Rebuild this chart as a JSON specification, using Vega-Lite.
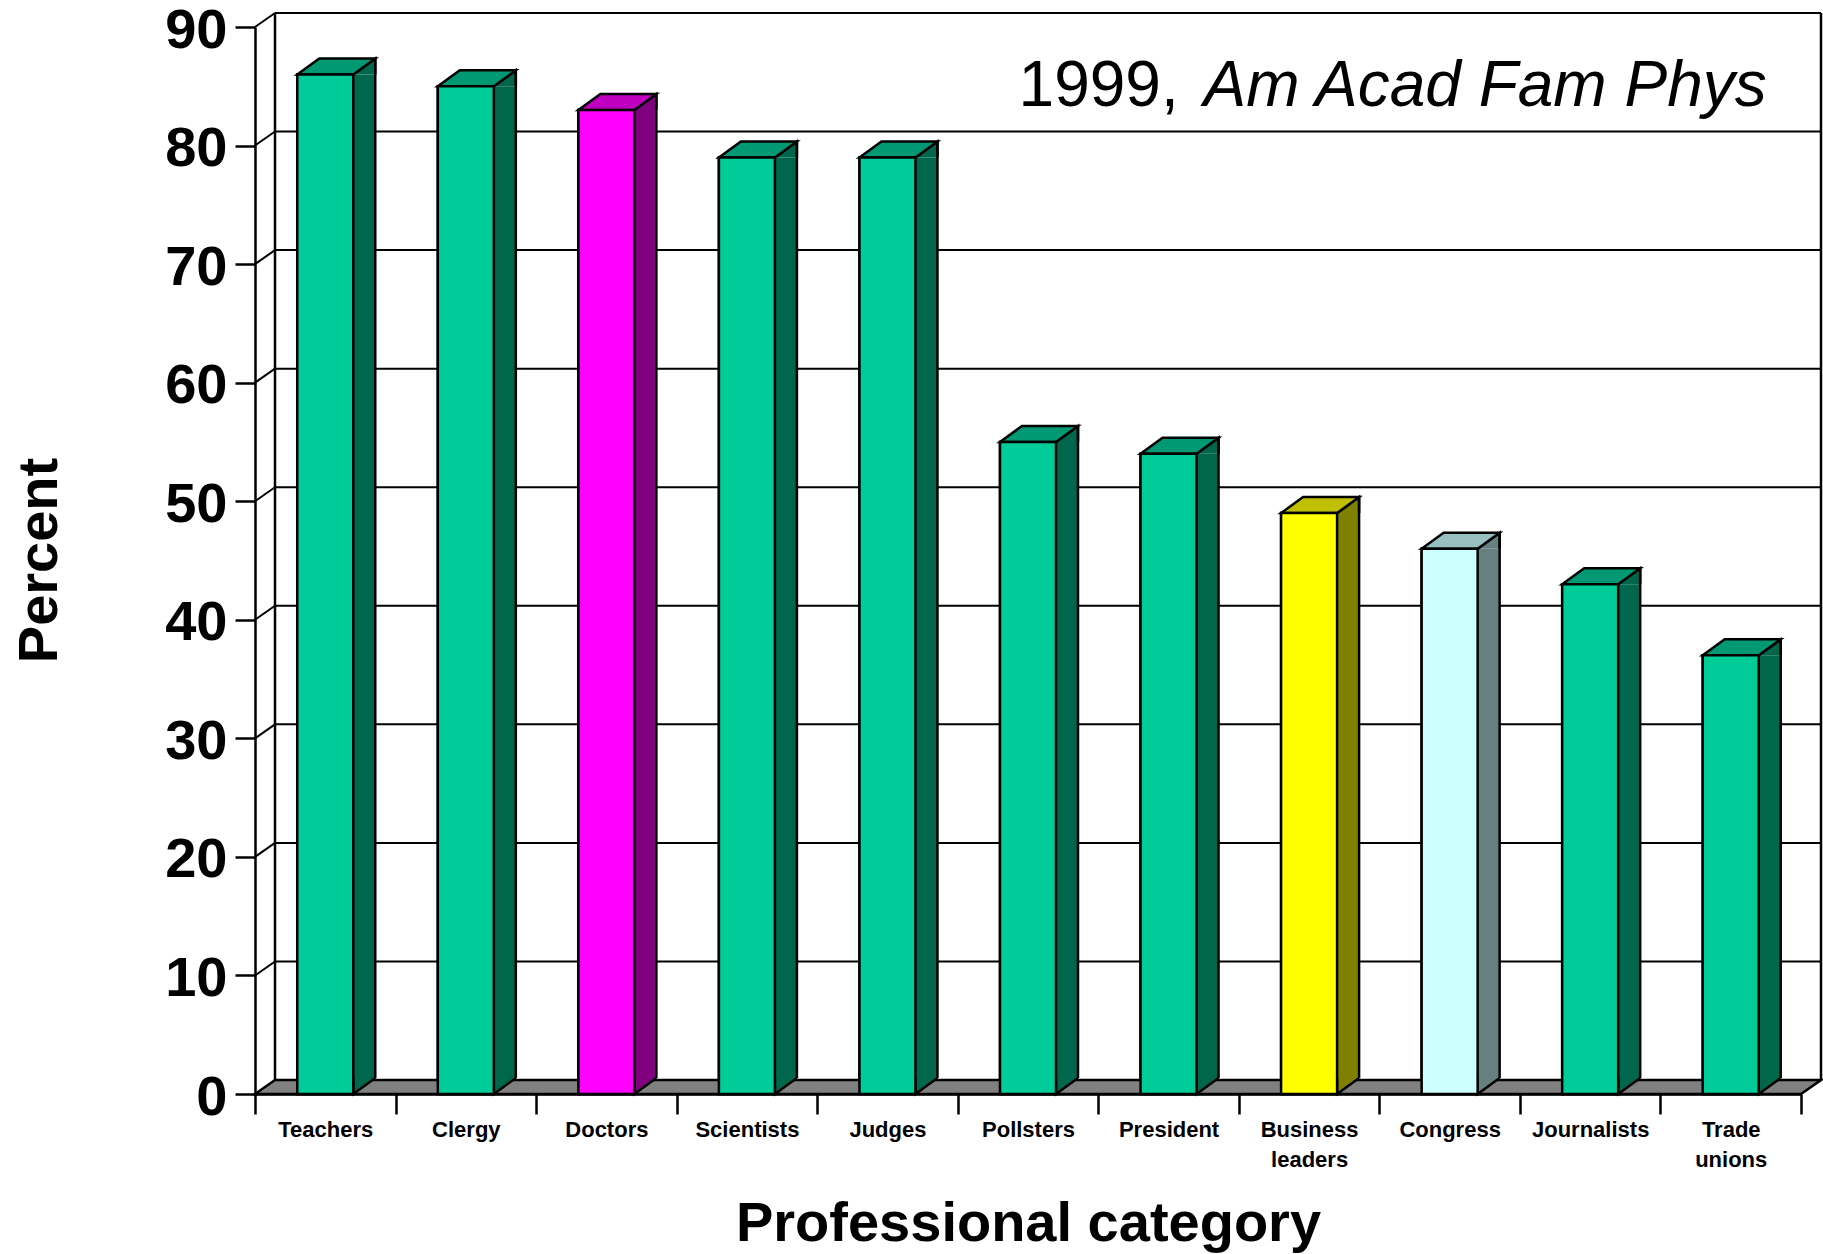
{
  "$schema": "https://vega.github.io/schema/vega-lite/v6.json",
  "autosize": {"type": "none"},
  "padding": {"left": 255, "top": 27, "right": 22, "bottom": 160},
  "width": 1546,
  "height": 1067,
  "background": "white",
  "config": {
    "view": {"stroke": null},
    "font": "Liberation Sans",
    "axisY": {
      "titleFont": "Liberation Sans", "titleFontSize": 56, "titleFontWeight": "bold", "titleColor": "black",
      "titleAngle": 270, "titleX": -199, "titleY": 533, "titleAlign": "center", "titleBaseline": "alphabetic",
      "tickSize": 20, "tickWidth": 2.5, "tickColor": "black",
      "domain": true, "domainColor": "black", "domainWidth": 2.5,
      "labels": true,
      "labelFont": "Liberation Sans", "labelFontSize": 56, "labelFontWeight": "bold", "labelColor": "black",
      "labelPadding": 8, "labelBaseline": "middle", "labelOffset": 3, "labelOverlap": false, "labelLimit": 400,
      "grid": false
    },
    "axisX": {
      "titleFont": "Liberation Sans", "titleFontSize": 56, "titleFontWeight": "bold", "titleColor": "black",
      "titleX": 773, "titleY": 146, "titleAlign": "center", "titleBaseline": "alphabetic",
      "tickBand": "extent", "tickSize": 20, "tickWidth": 2.5, "tickColor": "black",
      "domain": true, "domainColor": "black", "domainWidth": 2.5,
      "labelAngle": 0, "labelFont": "Liberation Sans", "labelFontSize": 22, "labelFontWeight": "bold",
      "labelColor": "black", "labelPadding": 5, "labelBaseline": "top", "labelLineHeight": 30,
      "labelOverlap": false,
      "grid": false
    }
  },
  "datasets": {
    "bars": [
      {"category": "Teachers", "value": 86},
      {"category": "Clergy", "value": 85},
      {"category": "Doctors", "value": 83},
      {"category": "Scientists", "value": 79},
      {"category": "Judges", "value": 79},
      {"category": "Pollsters", "value": 55},
      {"category": "President", "value": 54},
      {"category": "Business leaders", "value": 49},
      {"category": "Congress", "value": 46},
      {"category": "Journalists", "value": 43},
      {"category": "Trade unions", "value": 37}
    ],
    "ticks": [
      {"t": 0}, {"t": 10}, {"t": 20}, {"t": 30}, {"t": 40},
      {"t": 50}, {"t": 60}, {"t": 70}, {"t": 80}, {"t": 90}
    ],
    "notes": [
      {"part": "year", "label": "1999,", "anchor": "Trade unions", "level": 83.3},
      {"part": "source", "label": "Am Acad Fam Phys", "anchor": "Trade unions", "level": 83.3}
    ]
  },
  "data": {"name": "bars"},
  "encoding": {
    "x": {
      "field": "category", "type": "nominal", "sort": null, "title": "Professional category",
      "scale": {"type": "band", "paddingInner": 0, "paddingOuter": 0},
      "axis": {"labelExpr": "split(datum.label, ' ')"}
    },
    "y": {
      "field": "value", "type": "quantitative", "title": "Percent",
      "scale": {"domain": [0, 90], "nice": false, "zero": true},
      "axis": {"values": [0, 10, 20, 30, 40, 50, 60, 70, 80, 90]}
    }
  },
  "layer": [
    {
      "mark": {"type": "bar", "width": 56, "stroke": "black", "strokeWidth": 2.5, "opacity": 1, "strokeJoin": "miter"},
      "encoding": {
        "y2": {"datum": 0},
        "fill": {"field": "category", "type": "nominal", "legend": null,
          "scale": {"domain": ["Teachers", "Clergy", "Doctors", "Scientists", "Judges", "Pollsters", "President", "Business leaders", "Congress", "Journalists", "Trade unions"],
                    "range": ["#00CC99", "#00CC99", "#FF00FF", "#00CC99", "#00CC99", "#00CC99", "#00CC99", "#FFFF00", "#CCFFFF", "#00CC99", "#00CC99"]}}
      }
    },
    {
      "data": {"name": "ticks"},
      "transform": [{"filter": "datum.t > 0"}],
      "mark": {"type": "rule", "stroke": "black", "strokeWidth": 2, "xOffset": 20, "x2Offset": 20, "yOffset": -14, "opacity": 1},
      "encoding": {
        "x": {"value": 0}, "x2": {"value": "width"},
        "y": {"field": "t", "type": "quantitative"}
      }
    },
    {
      "data": {"name": "ticks"},
      "transform": [{"filter": "datum.t > 0"}],
      "mark": {"type": "rule", "stroke": "black", "strokeWidth": 2, "x2Offset": 20, "y2Offset": -14, "opacity": 1},
      "encoding": {
        "x": {"value": 0}, "x2": {"value": 0},
        "y": {"field": "t", "type": "quantitative"},
        "y2": {"field": "t"}
      }
    },
    {
      "data": {"name": "ticks"},
      "transform": [{"filter": "datum.t == 90"}],
      "mark": {"type": "rule", "stroke": "black", "strokeWidth": 2.5, "xOffset": 20, "yOffset": -14, "y2Offset": -14, "opacity": 1},
      "encoding": {
        "x": {"value": 0},
        "y": {"field": "t", "type": "quantitative"},
        "y2": {"datum": 0}
      }
    },
    {
      "data": {"name": "ticks"},
      "transform": [{"filter": "datum.t == 90"}],
      "mark": {"type": "rule", "stroke": "black", "strokeWidth": 2.5, "xOffset": 20, "yOffset": -14, "y2Offset": -14, "opacity": 1},
      "encoding": {
        "x": {"value": "width"},
        "y": {"field": "t", "type": "quantitative"},
        "y2": {"datum": 0}
      }
    },
    {
      "data": {"name": "ticks"},
      "transform": [{"filter": "datum.t == 0"}],
      "mark": {"type": "point", "shape": "M0,0L1546,0L1566,-14L20,-14Z", "size": 4, "filled": true,
               "fill": "#808080", "stroke": "black", "strokeWidth": 2.5, "opacity": 1, "strokeJoin": "miter"},
      "encoding": {
        "x": {"value": 0},
        "y": {"field": "t", "type": "quantitative"}
      }
    },
    {
      "mark": {"type": "bar", "width": 22, "xOffset": 39, "y2Offset": -16, "opacity": 1, "strokeWidth": 0},
      "encoding": {
        "y2": {"datum": 0},
        "fill": {"field": "category", "type": "nominal", "legend": null,
          "scale": {"domain": ["Teachers", "Clergy", "Doctors", "Scientists", "Judges", "Pollsters", "President", "Business leaders", "Congress", "Journalists", "Trade unions"],
                    "range": ["#00664C", "#00664C", "#800080", "#00664C", "#00664C", "#00664C", "#00664C", "#808000", "#668080", "#00664C", "#00664C"]}}
      }
    },
    {
      "mark": {"type": "point", "shape": "M28,0L50,-16L50,0", "size": 4, "filled": true,
               "stroke": "black", "strokeWidth": 2.5, "opacity": 1, "strokeJoin": "miter"},
      "encoding": {
        "fill": {"field": "category", "type": "nominal", "legend": null,
          "scale": {"domain": ["Teachers", "Clergy", "Doctors", "Scientists", "Judges", "Pollsters", "President", "Business leaders", "Congress", "Journalists", "Trade unions"],
                    "range": ["#00664C", "#00664C", "#800080", "#00664C", "#00664C", "#00664C", "#00664C", "#808000", "#668080", "#00664C", "#00664C"]}}
      }
    },
    {
      "mark": {"type": "point", "shape": "M50,-16L28,0L28,-16", "size": 4, "filled": true,
               "stroke": "black", "strokeWidth": 2.5, "opacity": 1, "strokeJoin": "miter"},
      "encoding": {
        "y": {"datum": 0, "type": "quantitative"},
        "fill": {"field": "category", "type": "nominal", "legend": null,
          "scale": {"domain": ["Teachers", "Clergy", "Doctors", "Scientists", "Judges", "Pollsters", "President", "Business leaders", "Congress", "Journalists", "Trade unions"],
                    "range": ["#00664C", "#00664C", "#800080", "#00664C", "#00664C", "#00664C", "#00664C", "#808000", "#668080", "#00664C", "#00664C"]}}
      }
    },
    {
      "mark": {"type": "rule", "stroke": "black", "strokeWidth": 2.5, "xOffset": 50, "yOffset": -16, "y2Offset": -16, "opacity": 1},
      "encoding": {
        "y2": {"datum": 0}
      }
    },
    {
      "mark": {"type": "point", "shape": "M-28,0L28,0L50,-16L-6,-16Z", "size": 4, "filled": true,
               "stroke": "black", "strokeWidth": 2.5, "opacity": 1, "strokeJoin": "miter"},
      "encoding": {
        "fill": {"field": "category", "type": "nominal", "legend": null,
          "scale": {"domain": ["Teachers", "Clergy", "Doctors", "Scientists", "Judges", "Pollsters", "President", "Business leaders", "Congress", "Journalists", "Trade unions"],
                    "range": ["#009973", "#009973", "#C000C0", "#009973", "#009973", "#009973", "#009973", "#C0C000", "#99C0C0", "#009973", "#009973"]}}
      }
    },
    {
      "mark": {"type": "bar", "width": 56, "stroke": "black", "strokeWidth": 2.5, "opacity": 1, "strokeJoin": "miter"},
      "encoding": {
        "y2": {"datum": 0},
        "fill": {"field": "category", "type": "nominal", "legend": null,
          "scale": {"domain": ["Teachers", "Clergy", "Doctors", "Scientists", "Judges", "Pollsters", "President", "Business leaders", "Congress", "Journalists", "Trade unions"],
                    "range": ["#00CC99", "#00CC99", "#FF00FF", "#00CC99", "#00CC99", "#00CC99", "#00CC99", "#FFFF00", "#CCFFFF", "#00CC99", "#00CC99"]}}
      }
    },
    {
      "data": {"name": "notes"},
      "transform": [{"filter": "datum.part == 'year'"}],
      "mark": {"type": "text", "align": "right", "baseline": "alphabetic", "font": "Liberation Sans",
               "fontSize": 64, "fill": "black", "opacity": 1, "xOffset": -552},
      "encoding": {
        "x": {"field": "anchor", "type": "nominal"},
        "y": {"field": "level", "type": "quantitative"},
        "text": {"field": "label", "type": "nominal"}
      }
    },
    {
      "data": {"name": "notes"},
      "transform": [{"filter": "datum.part == 'source'"}],
      "mark": {"type": "text", "align": "right", "baseline": "alphabetic", "font": "Liberation Sans",
               "fontSize": 64, "fontStyle": "italic", "fill": "black", "opacity": 1, "xOffset": 36},
      "encoding": {
        "x": {"field": "anchor", "type": "nominal"},
        "y": {"field": "level", "type": "quantitative"},
        "text": {"field": "label", "type": "nominal"}
      }
    }
  ],
  "resolve": {"scale": {"fill": "independent"}}
}
